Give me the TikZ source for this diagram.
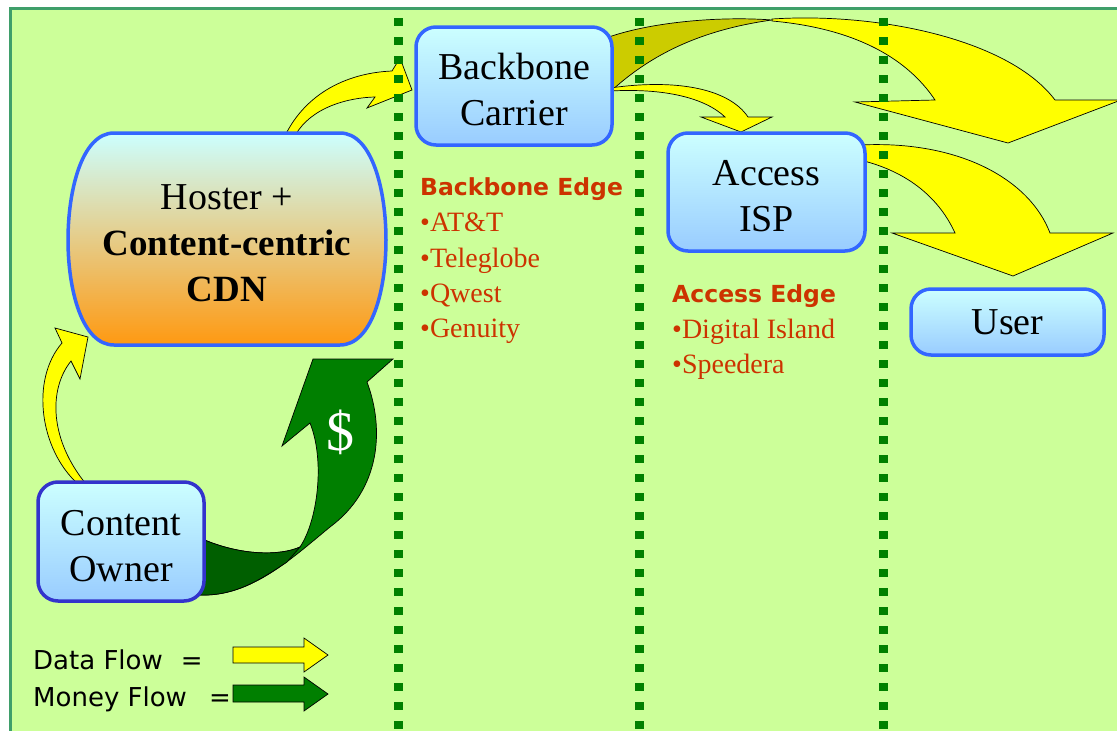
\documentclass[tikz,border=0pt]{standalone}
\usepackage{fontspec}
\setmainfont{Liberation Serif}
\newfontfamily\labelsans{DejaVu Sans}
\usepackage{tikz}
\definecolor{slidegreen}{HTML}{CCFF99}
\definecolor{framegreen}{HTML}{3F9F6A}
\definecolor{dotgreen}{HTML}{008000}
\definecolor{boxblue}{HTML}{3366FF}
\definecolor{ownerblue}{HTML}{3333CC}
\definecolor{boxtop}{HTML}{CCFFFF}
\definecolor{boxbot}{HTML}{99CCFF}
\definecolor{hostermid}{HTML}{E6D8C6}
\definecolor{hosterbot}{HTML}{FF9911}
\definecolor{flowyellow}{HTML}{FFFF00}
\definecolor{flowolive}{HTML}{CCCC00}
\definecolor{moneygreen}{HTML}{007F00}
\definecolor{moneyfold}{HTML}{005F00}
\definecolor{edgered}{HTML}{CC3300}

\tikzset{
  player/.style={draw=boxblue, line width=3.5pt, rounded corners=20pt,
    top color=boxtop, bottom color=boxbot, align=center, inner sep=0pt,
    font=\fontsize{38}{46}\selectfont},
  twoline/.style={text height=80pt},
  edgehead/.style={anchor=base west, inner sep=0pt, text=edgered,
    font=\labelsans\bfseries\fontsize{23.5}{28}\selectfont},
  edgeitem/.style={anchor=base west, inner sep=0pt, text=edgered,
    font=\fontsize{28}{34}\selectfont},
  legendtext/.style={anchor=base west, inner sep=0pt,
    font=\labelsans\fontsize{26}{30}\selectfont},
  dataflow/.style={fill=flowyellow, draw=black, line width=0.7pt},
  moneyflow/.style={fill=moneygreen, draw=black, line width=0.7pt},
  tierline/.style={draw=dotgreen, line width=9pt, dash pattern=on 8pt off 11pt},
}

\begin{document}
\begin{tikzpicture}[x=1pt, y=-1pt]
  \useasboundingbox (0,0) rectangle (1117,731);
  \clip (0,0) rectangle (1117,731);
  \fill[white] (0,0) rectangle (1117,731);
  \draw[framegreen, line width=3pt, fill=slidegreen] (10,8) rectangle (1140,760);

  % data flow
  \path[dataflow] (283,140) .. controls (303,95) and (345,73) .. (392,71)
    -- (400,58) -- (412,90) -- (367,108) -- (375,97)
    .. controls (340,98) and (305,112) .. (293,140) -- cycle;
  \path[dataflow] (78,484) .. controls (40,450) and (30,380) .. (62,343)
    -- (55,328) -- (88,337) -- (80,379) -- (71,361)
    .. controls (48,390) and (50,440) .. (86,484) -- cycle;
  \path[dataflow, fill=flowolive] (606,38) .. controls (650,22) and (720,16) .. (772,20)
    .. controls (700,30) and (650,55) .. (610,92) -- cycle;
  \path[dataflow] (772,19) .. controls (880,12) and (1010,40) .. (1055,100)
    -- (1121,100) -- (1008,143) -- (855,102) -- (935,100)
    .. controls (905,55) and (850,28) .. (772,21) -- cycle;
  \path[dataflow] (610,88) .. controls (680,78) and (730,90) .. (748,117)
    -- (772,117) -- (741,132) -- (701,117) -- (725,117)
    .. controls (705,98) and (665,88) .. (610,91) -- cycle;
  \path[dataflow] (860,145) .. controls (960,140) and (1030,180) .. (1050,233)
    -- (1113,233) -- (1013,276) -- (892,233) -- (955,233)
    .. controls (940,200) and (910,172) .. (860,160) -- cycle;

  % money flow
  \path[moneyflow] (200,538) .. controls (240,556) and (280,556) .. (300,547)
    .. controls (318,520) and (325,460) .. (310,423)
    -- (282,446) -- (313,359) -- (393,359) -- (367,382)
    .. controls (385,430) and (380,490) .. (330,527)
    .. controls (290,560) and (250,597) .. (200,595) -- cycle;
  \path[moneyflow, fill=moneyfold] (200,538) .. controls (240,556) and (280,556) .. (300,547)
    -- (287,562) .. controls (260,580) and (235,596) .. (200,595) -- cycle;
  \node[text=white, font=\fontsize{56}{60}\selectfont] (dollar) at (340,432) {\$};

  \foreach \x in {398,639,883}
    \draw[tierline] (\x,18) -- (\x,731);

  % hoster
  \path[draw=boxblue, line width=3.5pt, top color=boxtop, middle color=hostermid, bottom color=hosterbot]
    (114,133) -- (340,133) .. controls (372,133) and (386,190) .. (386,240)
    .. controls (386,290) and (372,345) .. (340,345)
    -- (114,345) .. controls (82,345) and (68,290) .. (68,240)
    .. controls (68,190) and (82,133) .. (114,133) -- cycle;
  \node[align=center, inner sep=0pt, font=\fontsize{38}{46}\selectfont] (hoster) at (227,243.5)
    {Hoster +\\{\bfseries\fontsize{37}{46}\selectfont Content-centric}\\{\bfseries\fontsize{37}{46}\selectfont CDN}};

  \node[player, twoline, minimum width=196pt, minimum height=118pt] (backbone) at (514,86) {Backbone\\Carrier};
  \node[player, twoline, minimum width=197pt, minimum height=118pt] (access) at (766.5,192) {Access\\ISP};
  \node[player, minimum width=193pt, minimum height=66pt] (user) at (1007.5,322) {User};
  \node[player, twoline, draw=ownerblue, minimum width=166pt, minimum height=119pt] (owner) at (121,541.5) {Content\\Owner};

  \node[edgehead] (bbedge) at (420,195) {Backbone Edge};
  \foreach \txt [count=\i] in {AT\&T, Teleglobe, Qwest, Genuity}
    \node[edgeitem] (bbitem\i) at (420,{196.5+\i*35.3}) {•\txt};
  \node[edgehead] (accedge) at (672,302) {Access Edge};
  \foreach \txt [count=\i] in {Digital Island, Speedera}
    \node[edgeitem] (accitem\i) at (672,{303+\i*35.3}) {•\txt};

  % legend
  \node[legendtext] (datakey) at (33,669) {Data Flow\hspace{18pt}=};
  \node[legendtext] (moneykey) at (33,706) {Money Flow\hspace{22pt}=};
  \path[dataflow] (233,647) -- (304,647) -- (304,638) -- (328,655) -- (304,672) -- (304,663) -- (233,663) -- cycle;
  \path[moneyflow] (233,685) -- (304,685) -- (304,677) -- (328,694) -- (304,711) -- (304,702) -- (233,702) -- cycle;
\end{tikzpicture}
\end{document}
